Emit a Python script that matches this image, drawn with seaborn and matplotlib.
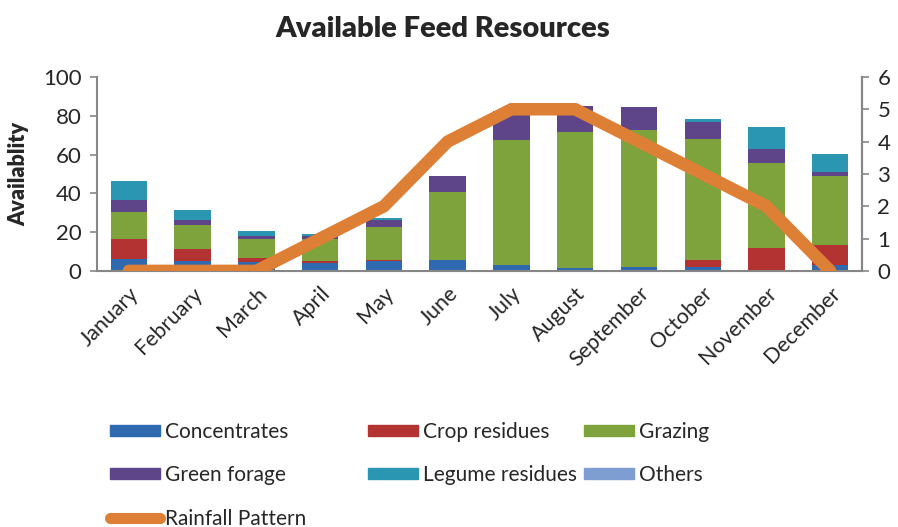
import numpy as np
import pandas as pd
import matplotlib
matplotlib.use("Agg")
import matplotlib.pyplot as plt
import seaborn as sns
from matplotlib.patches import Patch
from matplotlib.lines import Line2D

months = ["January", "February", "March", "April", "May", "June", "July",
          "August", "September", "October", "November", "December"]
concentrates = [6.0, 5.2, 4.5, 4.3, 5.2, 5.7, 2.8, 1.5, 2.2, 2.2, 0.0, 2.8]
crop_residues = [10.5, 6.0, 2.1, 0.9, 0.6, 0.0, 0.0, 0.0, 0.0, 3.5, 12.0, 10.6]
grazing = [14.0, 12.5, 9.9, 11.1, 17.0, 35.2, 64.7, 70.0, 70.5, 62.3, 43.7, 35.6]
green_forage = [6.0, 2.7, 1.7, 1.7, 3.5, 8.1, 15.0, 13.5, 12.0, 9.0, 7.0, 2.0]
legume_residues = [10.0, 5.0, 2.4, 1.0, 1.0, 0.0, 0.0, 0.0, 0.0, 1.4, 11.5, 9.3]
others = [0.0] * 12
rainfall = [0, 0, 0, 1, 2, 4, 5, 5, 4, 3, 2, 0]

series_names = ["Concentrates", "Crop residues", "Grazing", "Green forage",
                "Legume residues", "Others"]
series_vals = [concentrates, crop_residues, grazing, green_forage,
               legume_residues, others]
colors = ["#2F69B0", "#B33232", "#7EA33C", "#5E4589", "#2B96B2", "#7E9DD0"]
line_color = "#DD8035"

sns.set_style("white")
plt.rcParams["font.family"] = ["Lato", "DejaVu Sans"]

fig = plt.figure(figsize=(8.98, 5.27), dpi=100)
ax = fig.add_axes([0.108, 0.486, 0.852, 0.368])

bottom = np.zeros(12)
for name, vals, col in zip(series_names, series_vals, colors):
    df = pd.DataFrame({"month": months, "value": vals})
    sns.barplot(data=df, x="month", y="value", ax=ax, color=col,
                width=0.57, bottom=bottom.copy(), saturation=1,
                linewidth=0, order=months, errorbar=None)
    bottom += np.array(vals)

ax.set_xlim(-0.5, 11.5)
ax.set_ylim(0, 100)
ax.set_yticks([0, 20, 40, 60, 80, 100])
ax.set_xlabel("")
ax.set_ylabel("Availablity", fontsize=15.5, fontweight="heavy", labelpad=10)
ax.tick_params(axis="y", labelsize=16, length=5, color="#868686",
               direction="out", left=True, width=1.2, pad=6)
ax.tick_params(axis="x", labelsize=15.5, length=0, pad=9)
for lbl in ax.get_xticklabels():
    lbl.set_rotation(45)
    lbl.set_ha("right")
    lbl.set_rotation_mode("anchor")
for s in ["left", "bottom", "right"]:
    ax.spines[s].set_color("#868686")
    ax.spines[s].set_linewidth(1.5)
ax.spines["top"].set_visible(False)

ax2 = ax.twinx()
ldf = pd.DataFrame({"x": np.arange(12), "rain": rainfall})
sns.lineplot(data=ldf, x="x", y="rain", ax=ax2, color=line_color,
             linewidth=9, solid_capstyle="round", solid_joinstyle="miter")
ax2.set_ylim(0, 6)
ax2.set_yticks(range(7))
ax2.set_ylabel("")
ax2.set_xlabel("")
ax2.set_xlim(-0.5, 11.5)
ax2.tick_params(axis="y", labelsize=16, length=5, color="#868686",
                direction="out", right=True, width=1.2, pad=6)
for s in ["left", "bottom", "top"]:
    ax2.spines[s].set_visible(False)
ax2.spines["right"].set_color("#868686")
ax2.spines["right"].set_linewidth(1.5)

fig.text(0.493, 0.945, "Available Feed Resources", ha="center", va="center",
         fontsize=21, fontweight="heavy")

handles = [Patch(color=c) for c in colors]
line_h = Line2D([0], [0], color=line_color, linewidth=8, solid_capstyle="round")
columns = [
    ([handles[0], handles[3], line_h],
     [series_names[0], series_names[3], "Rainfall Pattern"], 0.122),
    ([handles[1], handles[4]], [series_names[1], series_names[4]], 0.410),
    ([handles[2], handles[5]], [series_names[2], series_names[5]], 0.650),
]
for hs, ls, x0 in columns:
    fig.legend(hs, ls, ncol=1, loc="upper left",
               bbox_to_anchor=(x0, 0.2), frameon=False, fontsize=15,
               handlelength=2.4, handleheight=0.45, handletextpad=0.25,
               labelspacing=1.13, borderaxespad=0, borderpad=0)

fig.savefig("out.png", dpi=100)
